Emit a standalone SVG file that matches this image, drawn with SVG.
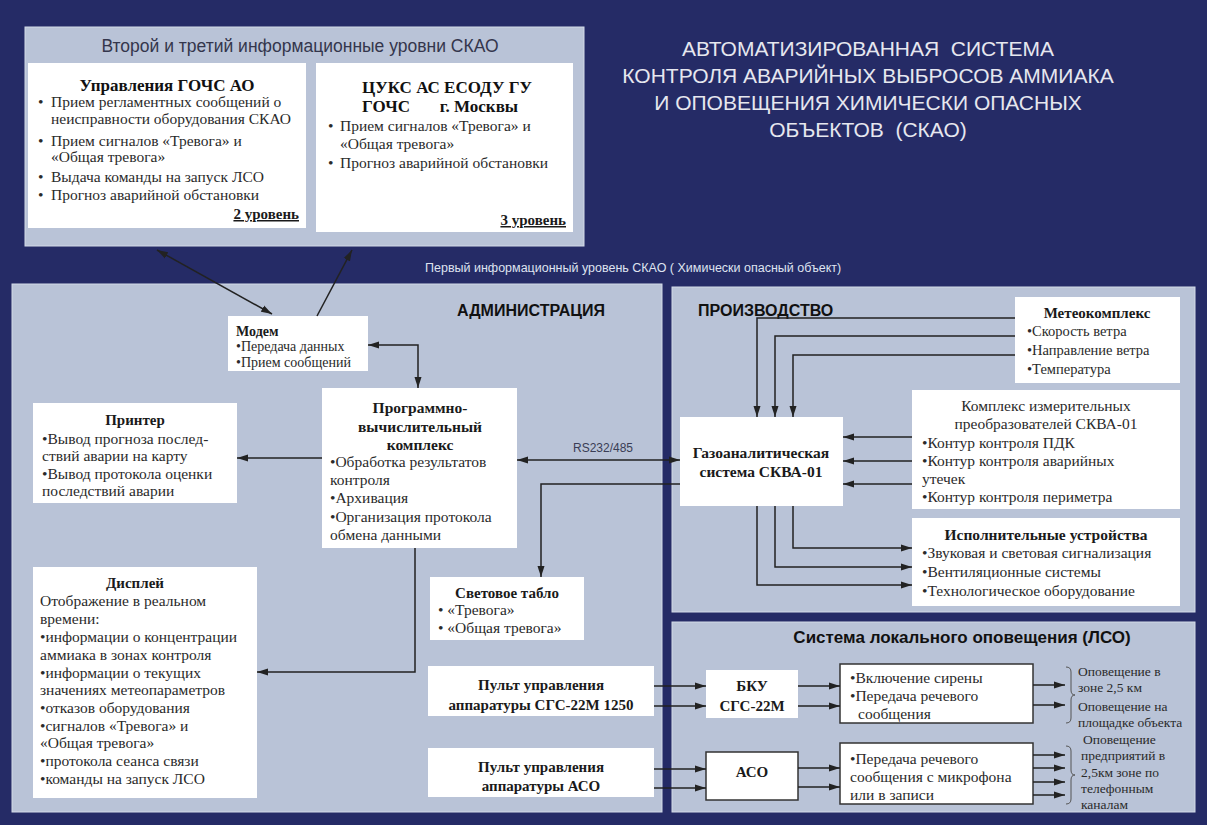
<svg xmlns="http://www.w3.org/2000/svg" width="1207" height="825" viewBox="0 0 1207 825">
<defs>
<marker id="ah" markerUnits="userSpaceOnUse" markerWidth="12" markerHeight="8" refX="11" refY="4" orient="auto-start-reverse"><path d="M0,0.5 L11,4 L0,7.5 z" fill="#222"/></marker>
<style>
.bg{fill:#252b66}
.panel{fill:#b9c3d7;stroke:#d4dbe8;stroke-width:1}
.box{fill:#ffffff}
.sbox{fill:#ffffff;stroke:#333;stroke-width:1.5}
.t{font-family:"Liberation Serif","DejaVu Serif",serif;font-size:15.5px;fill:#2a2a2a}
.tb{font-family:"Liberation Serif","DejaVu Serif",serif;font-size:15px;font-weight:bold;fill:#1a1a1a}
.tt{font-family:"Liberation Serif","DejaVu Serif",serif;font-size:17px;font-weight:bold;fill:#111}
.c{text-anchor:middle}
.r{text-anchor:end}
.hs{font-family:"Liberation Sans",Arial,sans-serif;font-weight:bold;font-size:16px;fill:#111}
.title{font-family:"Liberation Sans",Arial,sans-serif;font-size:21px;fill:#e6e7ef;text-anchor:middle;white-space:pre}
.lvl{font-family:"Liberation Sans",Arial,sans-serif;font-size:12.5px}
.ln{fill:none;stroke:#222;stroke-width:1.5}
</style>
</defs>
<rect class="bg" x="0" y="0" width="1207" height="825"/>

<g id="title">
<text class="title" x="868" y="56">АВТОМАТИЗИРОВАННАЯ  СИСТЕМА</text>
<text class="title" x="868" y="83">КОНТРОЛЯ АВАРИЙНЫХ ВЫБРОСОВ АММИАКА</text>
<text class="title" x="868" y="110">И ОПОВЕЩЕНИЯ ХИМИЧЕСКИ ОПАСНЫХ</text>
<text class="title" x="868" y="137">ОБЪЕКТОВ  (СКАО)</text>
</g>

<g id="level23">
<rect class="panel" x="25" y="27" width="559" height="219"/>
<text class="lvl c" x="300" y="52" fill="#34364c" style="font-size:17.5px">Второй и третий информационные уровни СКАО</text>
</g>

<g id="gochs">
<rect class="box" x="28" y="63" width="278" height="165"/>
<text class="tt c" x="167" y="91">Управления ГОЧС АО</text>
<text class="t" x="38" y="107">•</text><text class="t" x="51" y="107">Прием регламентных сообщений о</text>
<text class="t" x="51" y="124">неисправности оборудования СКАО</text>
<text class="t" x="38" y="146">•</text><text class="t" x="51" y="146">Прием сигналов «Тревога» и</text>
<text class="t" x="51" y="162">«Общая тревога»</text>
<text class="t" x="38" y="182">•</text><text class="t" x="51" y="182">Выдача команды  на запуск ЛСО</text>
<text class="t" x="38" y="200">•</text><text class="t" x="51" y="200">Прогноз аварийной обстановки</text>
<text class="tb r" x="299" y="219" text-decoration="underline">2 уровень</text>
</g>

<g id="tsuks">
<rect class="box" x="316" y="63" width="257" height="169"/>
<text class="tt c" x="447" y="93">ЦУКС АС ЕСОДУ ГУ</text>
<text class="tt" x="362" y="112" style="white-space:pre">ГОЧС       г. Москвы</text>
<text class="t" x="328" y="131">•</text><text class="t" x="340" y="131">Прием сигналов «Тревога» и</text>
<text class="t" x="340" y="149">«Общая тревога»</text>
<text class="t" x="328" y="168">•</text><text class="t" x="340" y="168">Прогноз аварийной обстановки</text>
<text class="tb r" x="566" y="225" text-decoration="underline">3 уровень</text>
</g>

<text class="lvl" x="425" y="272" fill="#dfe3f0" id="level1">Первый информационный уровень СКАО ( Химически опасный объект)</text>

<g id="admin">
<rect class="panel" x="12" y="284" width="650" height="528"/>
<text class="hs c" x="531" y="316">АДМИНИСТРАЦИЯ</text>
</g>
<g id="production">
<rect class="panel" x="672" y="287" width="523" height="325"/>
<text class="hs" x="698" y="316">ПРОИЗВОДСТВО</text>
</g>
<g id="lso">
<rect class="panel" x="672" y="622" width="523" height="190"/>
<text class="hs c" x="962" y="643" style="font-size:17px">Система локального оповещения (ЛСО)</text>
</g>

<g id="modem">
<rect class="box" x="228" y="316" width="140" height="55"/>
<text class="tb" x="236" y="336" style="font-size:14px">Модем</text>
<text class="t" x="236" y="351" style="font-size:14px">•Передача данных</text>
<text class="t" x="236" y="367" style="font-size:14px">•Прием сообщений</text>
</g>

<g id="pvk">
<rect class="box" x="322" y="388" width="195" height="160"/>
<text class="tb c" x="420" y="413" style="font-size:15.5px">Программно-</text>
<text class="tb c" x="420" y="432" style="font-size:15.5px">вычислительный</text>
<text class="tb c" x="420" y="450" style="font-size:15.5px">комплекс</text>
<text class="t" x="330" y="467">•Обработка результатов</text>
<text class="t" x="330" y="485">контроля</text>
<text class="t" x="330" y="503">•Архивация</text>
<text class="t" x="330" y="522">•Организация протокола</text>
<text class="t" x="330" y="540">обмена данными</text>
</g>

<g id="printer">
<rect class="box" x="33" y="403" width="204" height="100"/>
<text class="tb c" x="135" y="425">Принтер</text>
<text class="t" x="42" y="444">•Вывод прогноза  послед-</text>
<text class="t" x="42" y="461">ствий аварии на карту</text>
<text class="t" x="42" y="479">•Вывод протокола оценки</text>
<text class="t" x="42" y="496">последствий аварии</text>
</g>

<g id="display">
<rect class="box" x="33" y="567" width="224" height="231"/>
<text class="tb c" x="135" y="588">Дисплей</text>
<text class="t" x="40" y="606">Отображение в реальном</text>
<text class="t" x="40" y="624">времени:</text>
<text class="t" x="40" y="642">•информации о концентрации</text>
<text class="t" x="40" y="660">аммиака в зонах контроля</text>
<text class="t" x="40" y="678">•информации о текущих</text>
<text class="t" x="40" y="695">значениях метеопараметров</text>
<text class="t" x="40" y="713">•отказов оборудования</text>
<text class="t" x="40" y="731">•сигналов «Тревога» и</text>
<text class="t" x="40" y="748">«Общая тревога»</text>
<text class="t" x="40" y="766">•протокола сеанса связи</text>
<text class="t" x="40" y="784">•команды  на запуск ЛСО</text>
</g>

<g id="tablo">
<rect class="box" x="430" y="577" width="154" height="63"/>
<text class="tb c" x="507" y="598">Световое табло</text>
<text class="t" x="438" y="615">• «Тревога»</text>
<text class="t" x="438" y="633">• «Общая тревога»</text>
</g>

<g id="pult-sgs">
<rect class="box" x="428" y="666" width="226" height="50"/>
<text class="tb c" x="541" y="690">Пульт управления</text>
<text class="tb c" x="541" y="710">аппаратуры СГС-22М 1250</text>
</g>
<g id="pult-aso">
<rect class="box" x="428" y="748" width="226" height="49"/>
<text class="tb c" x="541" y="772">Пульт управления</text>
<text class="tb c" x="541" y="791">аппаратуры АСО</text>
</g>

<g id="gas">
<rect class="box" x="680" y="417" width="163" height="89"/>
<text class="tb c" x="761" y="458" style="font-size:15.5px">Газоаналитическая</text>
<text class="tb c" x="761" y="477" style="font-size:15.5px">система СКВА-01</text>
</g>

<g id="meteo">
<rect class="box" x="1015" y="297" width="165" height="86"/>
<text class="tb c" x="1097" y="318">Метеокомплекс</text>
<text class="t" x="1027" y="336" style="font-size:14.5px">•Скорость ветра</text>
<text class="t" x="1027" y="355" style="font-size:14.5px">•Направление ветра</text>
<text class="t" x="1027" y="374" style="font-size:14.5px">•Температура</text>
</g>

<g id="sensors">
<rect class="box" x="912" y="390" width="268" height="119"/>
<text class="t c" x="1046" y="411">Комплекс измерительных</text>
<text class="t c" x="1046" y="429">преобразователей СКВА-01</text>
<text class="t" x="922" y="448">•Контур контроля ПДК</text>
<text class="t" x="922" y="466">•Контур контроля аварийных</text>
<text class="t" x="922" y="484">утечек</text>
<text class="t" x="922" y="502">•Контур контроля периметра</text>
</g>

<g id="actuators">
<rect class="box" x="912" y="518" width="268" height="88"/>
<text class="tb c" x="1046" y="540" style="font-size:15.5px">Исполнительные устройства</text>
<text class="t" x="922" y="558">•Звуковая и световая сигнализация</text>
<text class="t" x="922" y="577">•Вентиляционные системы</text>
<text class="t" x="922" y="596">•Технологическое оборудование</text>
</g>

<g id="bku">
<rect class="box" x="706" y="670" width="92" height="48"/>
<text class="tb c" x="752" y="691">БКУ</text>
<text class="tb c" x="752" y="711">СГС-22М</text>
</g>
<g id="aso">
<rect class="sbox" x="706" y="752" width="92" height="48"/>
<text class="tb c" x="752" y="777">АСО</text>
</g>

<g id="siren">
<rect class="sbox" x="840" y="664" width="193" height="59"/>
<text class="t" x="850" y="683">•Включение сирены</text>
<text class="t" x="850" y="701">•Передача речевого</text>
<text class="t" x="858" y="719">сообщения</text>
</g>
<g id="voice">
<rect class="sbox" x="840" y="743" width="193" height="61"/>
<text class="t" x="850" y="764">•Передача речевого</text>
<text class="t" x="850" y="782">сообщения с микрофона</text>
<text class="t" x="850" y="800">или в записи</text>
</g>

<g id="outputs">
<text class="t" x="1078" y="676" style="font-size:13.5px">Оповещение в</text>
<text class="t" x="1078" y="692" style="font-size:13.5px">зоне 2,5 км</text>
<text class="t" x="1078" y="711" style="font-size:13.5px">Оповещение на</text>
<text class="t" x="1078" y="727" style="font-size:13.5px">площадке объекта</text>
<text class="t" x="1083" y="744" style="font-size:13.5px">Оповещение</text>
<text class="t" x="1081" y="760" style="font-size:13.5px">предприятий в</text>
<text class="t" x="1081" y="777" style="font-size:13.5px">2,5км зоне по</text>
<text class="t" x="1081" y="793" style="font-size:13.5px">телефонным</text>
<text class="t" x="1081" y="809" style="font-size:13.5px">каналам</text>
</g>

<g id="connectors">
<path class="ln" d="M157,250 L272,314" marker-start="url(#ah)" marker-end="url(#ah)"/>
<path class="ln" d="M317,316 L352,250" marker-end="url(#ah)"/>
<path class="ln" d="M368,345 L418,345 L418,388" marker-start="url(#ah)" marker-end="url(#ah)"/>
<path class="ln" d="M322,458 L237,458" marker-end="url(#ah)"/>
<path class="ln" d="M415,548 L415,672 L257,672" marker-end="url(#ah)"/>
<path class="ln" d="M517,460 L680,460" marker-start="url(#ah)" marker-end="url(#ah)"/>
<text class="lvl" x="573" y="452" fill="#3a3d55" style="font-size:12px">RS232/485</text>
<path class="ln" d="M680,484 L541,484 L541,577" marker-end="url(#ah)"/>
<path class="ln" d="M1015,318 L757,318 L757,417" marker-end="url(#ah)"/>
<path class="ln" d="M1015,336 L775,336 L775,417" marker-end="url(#ah)"/>
<path class="ln" d="M1015,355 L793,355 L793,417" marker-end="url(#ah)"/>
<path class="ln" d="M912,437 L843,437" marker-end="url(#ah)"/>
<path class="ln" d="M912,461 L843,461" marker-end="url(#ah)"/>
<path class="ln" d="M912,484 L843,484" marker-end="url(#ah)"/>
<path class="ln" d="M793,506 L793,548 L912,548" marker-end="url(#ah)"/>
<path class="ln" d="M775,506 L775,567 L912,567" marker-end="url(#ah)"/>
<path class="ln" d="M757,506 L757,585 L912,585" marker-end="url(#ah)"/>
<path class="ln" d="M654,686 L706,686" marker-end="url(#ah)"/>
<path class="ln" d="M654,706 L706,706" marker-end="url(#ah)"/>
<path class="ln" d="M654,769 L706,769" marker-end="url(#ah)"/>
<path class="ln" d="M654,788 L706,788" marker-end="url(#ah)"/>
<path class="ln" d="M798,686 L840,686" marker-end="url(#ah)"/>
<path class="ln" d="M798,706 L840,706" marker-end="url(#ah)"/>
<path class="ln" d="M798,768 L840,768" marker-end="url(#ah)"/>
<path class="ln" d="M798,787 L840,787" marker-end="url(#ah)"/>
<path class="ln" d="M1033,685 L1065,685" marker-end="url(#ah)"/>
<path class="ln" d="M1033,705 L1065,705" marker-end="url(#ah)"/>
<path class="ln" d="M1033,755 L1065,755" marker-end="url(#ah)"/>
<path class="ln" d="M1033,768 L1065,768" marker-end="url(#ah)"/>
<path class="ln" d="M1033,782 L1065,782" marker-end="url(#ah)"/>
<path class="ln" d="M1033,795 L1065,795" marker-end="url(#ah)"/>
<path d="M1066,667 Q1071,667 1071,672 L1071,690 Q1071,695 1075,695 Q1071,695 1071,700 L1071,718 Q1071,723 1066,723" fill="none" stroke="#555" stroke-width="1"/>
<path d="M1066,746 Q1071,746 1071,751 L1071,770 Q1071,775 1075,775 Q1071,775 1071,780 L1071,799 Q1071,804 1066,804" fill="none" stroke="#555" stroke-width="1"/>
</g>
</svg>
